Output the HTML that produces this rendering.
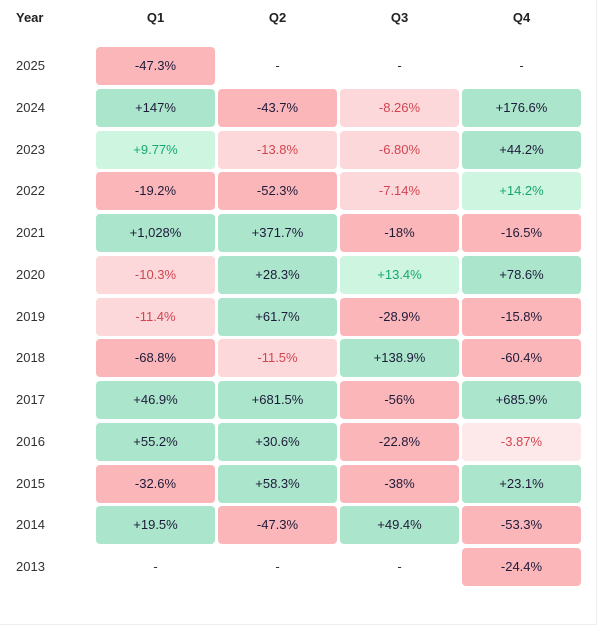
<!DOCTYPE html>
<html><head><meta charset="utf-8"><style>
body{margin:0;width:600px;height:628px;background:#fff;font-family:"Liberation Sans","DejaVu Sans",sans-serif;position:relative;overflow:hidden}
.h{position:absolute;top:10px;font-size:13px;font-weight:bold;color:#222;text-align:center;width:119px;line-height:16px}
.y{position:absolute;left:16px;font-size:13px;color:#333;line-height:38px}
.c{position:absolute;width:119px;height:38px;line-height:38px;text-align:center;font-size:13px;color:#1e1b3a;border-radius:4px;box-sizing:border-box}
.R{background:#fbb6b9}.G{background:#abe5cb}
.r{background:#fdd8da;color:#d24550}.g{background:#cdf5df;color:#17a673}.rr{background:#fde9ea;color:#d24550}
.n{color:#333}
.frame{position:absolute;right:3px;top:0;bottom:3px;width:1px;background:#eee}
.frameb{position:absolute;left:0;right:3px;bottom:3px;height:1px;background:#eee}
</style></head><body>
<div class="frame"></div><div class="frameb"></div>
<div class="h" style="left:0;width:auto;left:16px;text-align:left">Year</div>
<div class="h" style="left:96px">Q1</div>
<div class="h" style="left:218px">Q2</div>
<div class="h" style="left:340px">Q3</div>
<div class="h" style="left:462px">Q4</div>
<div id="t"></div>
<script>
var d=[["2025",["R","-47.3%"],["n","-"],["n","-"],["n","-"]],
["2024",["G","+147%"],["R","-43.7%"],["r","-8.26%"],["G","+176.6%"]],
["2023",["g","+9.77%"],["r","-13.8%"],["r","-6.80%"],["G","+44.2%"]],
["2022",["R","-19.2%"],["R","-52.3%"],["r","-7.14%"],["g","+14.2%"]],
["2021",["G","+1,028%"],["G","+371.7%"],["R","-18%"],["R","-16.5%"]],
["2020",["r","-10.3%"],["G","+28.3%"],["g","+13.4%"],["G","+78.6%"]],
["2019",["r","-11.4%"],["G","+61.7%"],["R","-28.9%"],["R","-15.8%"]],
["2018",["R","-68.8%"],["r","-11.5%"],["G","+138.9%"],["R","-60.4%"]],
["2017",["G","+46.9%"],["G","+681.5%"],["R","-56%"],["G","+685.9%"]],
["2016",["G","+55.2%"],["G","+30.6%"],["R","-22.8%"],["rr","-3.87%"]],
["2015",["R","-32.6%"],["G","+58.3%"],["R","-38%"],["G","+23.1%"]],
["2014",["G","+19.5%"],["R","-47.3%"],["G","+49.4%"],["R","-53.3%"]],
["2013",["n","-"],["n","-"],["n","-"],["R","-24.4%"]]];
var h="";d.forEach(function(r,i){var top=(47+i*41.75).toFixed(1);
h+='<div class="y" style="top:'+top+'px">'+r[0]+'</div>';
for(var j=1;j<5;j++){h+='<div class="c '+r[j][0]+'" style="left:'+(96+(j-1)*122)+'px;top:'+top+'px">'+r[j][1]+'</div>';}});
document.getElementById("t").innerHTML=h;
</script>
</body></html>
